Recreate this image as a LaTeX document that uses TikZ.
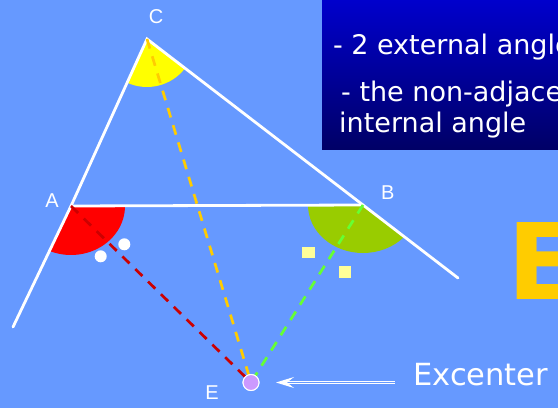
\documentclass[tikz,border=0pt]{standalone}
\usepackage{fontspec}
\newfontfamily\boxfont{DejaVu Sans}
\newfontfamily\labelfont{Liberation Sans}
\usetikzlibrary{arrows.meta}

\definecolor{bgblue}{HTML}{6699FF}
\definecolor{boxtop}{HTML}{0000CC}
\definecolor{boxbottom}{HTML}{000066}
\definecolor{sectorred}{HTML}{FF0000}
\definecolor{sectorgreen}{HTML}{99CC00}
\definecolor{sectoryellow}{HTML}{FFFF00}
\definecolor{dashred}{HTML}{CC0000}
\definecolor{dashyellow}{HTML}{FFCC00}
\definecolor{dashgreen}{HTML}{66FF33}
\definecolor{markyellow}{HTML}{FFFF99}
\definecolor{excolor}{HTML}{CC99FF}

\tikzset{
  triline/.style={white, line width=2.8pt, line cap=round},
  bisector/.style={line width=2.7pt, dash pattern=on 10pt off 8pt},
  vertexlabel/.style={white, inner sep=0pt, font=\labelfont\fontsize{20}{20}\selectfont},
  boxtext/.style={white, inner sep=0pt, anchor=base west, font=\boxfont\fontsize{27}{27}\selectfont},
}

\begin{document}
\begin{tikzpicture}[x=1pt, y=1pt]

\useasboundingbox (0,0) rectangle (558,408);
\clip (0,0) rectangle (558,408);
\fill[bgblue] (0,0) rectangle (558,408);

% Text box
\shade[top color=boxtop, bottom color=boxbottom] (322,258) rectangle (558,408);

\node[boxtext] (line1) at (332.8,353.7) {- 2 external angle};
\node[boxtext] (line2) at (341,306.3) {- the non-adjace};
\node[boxtext] (line3) at (339,275) {internal angle};

% Points
\coordinate (A) at (71,202);
\coordinate (B) at (363,203);
\coordinate (C) at (147,369);
\coordinate (Aend) at (13,81);
\coordinate (Bend) at (458,130);

% Angles
\fill[sectoryellow] (C) -- ++(-114.5:48) arc[start angle=-114.5, end angle=-37.5, radius=48] -- cycle;
\fill[sectorred] (A) -- ++(54,0) arc[start angle=0, end angle=-112.5, x radius=54, y radius=49] -- cycle;
\fill[sectorgreen] (B) -- ++(-55,0) arc[start angle=180, end angle=318.7, x radius=55, y radius=48] -- cycle;

% Triangle
\draw[triline] (Aend) -- (A) -- (C) -- (B) -- (Bend);
\draw[triline] (A) -- (B);

% Equal marks
\fill[white] (100.7,151.7) circle[radius=6];
\fill[white] (124.3,163.7) circle[radius=6];
\fill[markyellow] (302.3,149.7) rectangle (314.7,161.3);
\fill[markyellow] (339,129.7) rectangle (351,141.7);

% Excenter
\node[circle, fill=excolor, draw=white, line width=1pt, minimum size=16pt, inner sep=0pt] (e) at (251,25.5) {};

\draw[bisector, dashred] (A) -- (e);
\draw[bisector, dashyellow] (C) -- (e);
\draw[bisector, dashgreen] (B) -- (e);

\node[circle, fill=excolor, draw=white, line width=1pt, minimum size=16pt, inner sep=0pt] at (e) {};

% Labels
\node[vertexlabel] (labelC) at (156,391.3) {C};
\node[vertexlabel] (labelA) at (52,207.3) {A};
\node[vertexlabel] (labelB) at (387.7,215.5) {B};
\node[vertexlabel] (labelE) at (212,15) {E};

\node[white, inner sep=0pt, anchor=base west, font=\boxfont\fontsize{30.5}{30}\selectfont] (exc) at (413,22.3) {Excenter};

\coordinate (arrowstart) at (395,25.5);
\draw[white, line width=1pt, double=bgblue, double distance=1.4pt,
  -{Stealth[length=18pt, width=11pt, inset=7pt]}] (arrowstart) -- ([xshift=16.5pt]e.east);

\node[inner sep=0pt, anchor=base west, text=dashyellow, font=\boxfont\bfseries\fontsize{105.6}{106}\selectfont] (bigE) at (507,109) {E};

\end{tikzpicture}
\end{document}
